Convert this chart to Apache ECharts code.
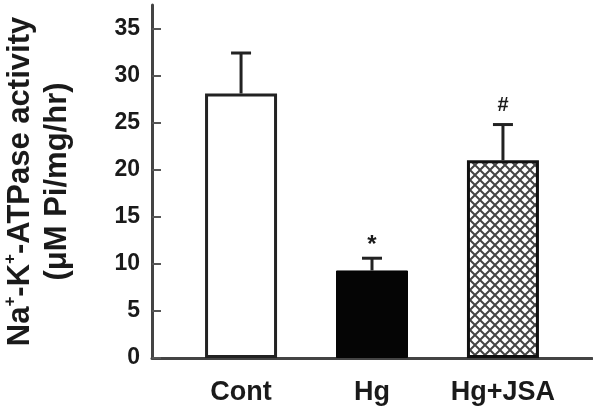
<!DOCTYPE html>
<html>
<head>
<meta charset="utf-8">
<script src="https://cdn.jsdelivr.net/npm/echarts@6/dist/echarts.min.js"></script>
<style>
html,body{margin:0;padding:0;background:#fff;}
#chart{width:593px;height:408px;}
</style>
</head>
<body>
<div id="chart"></div>
<script>
// ---- data ----
const categories = ['Cont', 'Hg', 'Hg+JSA'];
const means = [28.1, 9.3, 21.0];
const errors = [4.3, 1.3, 3.8];
const marks = ['', '*', '#'];
const yTickValues = [0, 5, 10, 15, 20, 25, 30, 35];

// ---- hatch pattern for the third bar ----
function makeHatch() {
  const c = document.createElement('canvas');
  c.width = 10; c.height = 10;
  const ctx = c.getContext('2d');
  ctx.fillStyle = '#ffffff';
  ctx.fillRect(0, 0, 10, 10);
  ctx.strokeStyle = '#444';
  ctx.lineWidth = 2;
  ctx.beginPath();
  ctx.moveTo(-1, -1); ctx.lineTo(11, 11);
  ctx.moveTo(11, -1); ctx.lineTo(-1, 11);
  ctx.stroke();
  return c;
}
const barStyles = [
  { color: '#ffffff', borderColor: '#222', borderWidth: 3 },
  { color: '#050505', borderColor: '#050505', borderWidth: 1 },
  { color: { image: makeHatch(), repeat: 'repeat' }, borderColor: '#111', borderWidth: 3 }
];

const font = "'Liberation Sans', Arial, sans-serif";
const chart = echarts.init(document.getElementById('chart'));

const option = {
  animation: false,
  backgroundColor: '#fff',
  grid: { left: 152, right: 1, top: 5, bottom: 50, containLabel: false, outerBoundsMode: 'none' },
  xAxis: {
    type: 'value',
    min: -0.68,
    max: 2.68,
    splitLine: { show: false },
    axisTick: { show: false },
    axisLine: { show: true, lineStyle: { color: '#444', width: 3 } },
    axisLabel: {
      customValues: categories.map((c, i) => i),
      formatter: v => categories[Math.round(v)] || '',
      fontFamily: font,
      fontWeight: 'bold',
      fontSize: 27,
      color: '#1a1a1a',
      margin: 21
    }
  },
  yAxis: {
    type: 'value',
    min: 0,
    max: 37.5,
    splitLine: { show: false },
    axisLine: { show: true, onZero: false, lineStyle: { color: '#444', width: 3 } },
    axisTick: {
      show: true, inside: true, length: 9,
      customValues: yTickValues,
      lineStyle: { color: '#555', width: 2 }
    },
    axisLabel: {
      customValues: yTickValues,
      fontFamily: font,
      fontWeight: 'bold',
      fontSize: 23,
      color: '#1a1a1a',
      margin: 12
    },
    name: '{b|Na}{s|+}{b|-K}{s|+}{b|-ATPase activity}\n{b|(\u03bcM Pi/mg/hr)}',
    nameLocation: 'middle',
    nameRotate: 90,
    nameGap: 76,
    nameTextStyle: {
      fontFamily: font,
      fontWeight: 'bold',
      fontSize: 31,
      color: '#1a1a1a',
      lineHeight: 37,
      rich: {
        b: { fontFamily: font, fontWeight: 'bold', fontSize: 31, lineHeight: 37, color: '#1a1a1a' },
        s: { fontFamily: font, fontWeight: 'bold', fontSize: 17, lineHeight: 37, verticalAlign: 'top', color: '#1a1a1a' }
      }
    }
  },
  series: [
    {
      type: 'bar',
      barWidth: 72,
      z: 2,
      data: means.map((m, i) => ({ value: [i, m], itemStyle: barStyles[i] }))
    },
    {
      type: 'custom',
      z: 3,
      data: means.map((m, i) => [i, m, errors[i]]),
      renderItem: function (params, api) {
        const x = api.value(0), m = api.value(1), e = api.value(2);
        const p0 = api.coord([x, m]);
        const p1 = api.coord([x, m + e]);
        const children = [
          { type: 'line', shape: { x1: p0[0], y1: p0[1], x2: p1[0], y2: p1[1] },
            style: { stroke: '#222', lineWidth: 3 } },
          { type: 'line', shape: { x1: p1[0] - 10, y1: p1[1], x2: p1[0] + 10, y2: p1[1] },
            style: { stroke: '#222', lineWidth: 3 } }
        ];
        const mk = marks[params.dataIndex];
        if (mk) {
          children.push({
            type: 'text',
            style: {
              text: mk, x: p1[0], y: p1[1] - (mk === '*' ? 13 : 19),
              align: 'center', verticalAlign: 'middle',
              font: 'bold ' + (mk === '*' ? 24 : 20) + 'px ' + font, fill: '#1a1a1a'
            }
          });
        }
        return { type: 'group', children: children };
      }
    }
  ]
};
chart.setOption(option);
</script>
</body>
</html>
